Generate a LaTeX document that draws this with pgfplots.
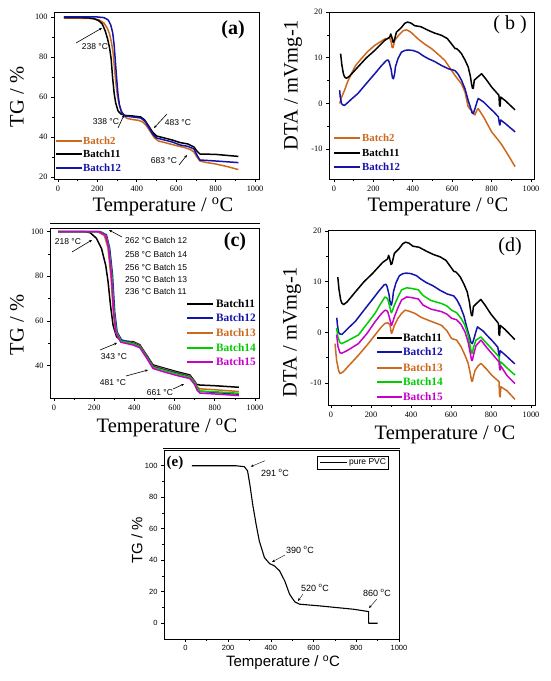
\documentclass[border=0pt]{standalone}
\usepackage{fontspec}
\setmainfont{Liberation Serif}
\setsansfont{Liberation Sans}
\usepackage{pgfplots}
\pgfplotsset{compat=1.18}
\usetikzlibrary{arrows.meta}
\definecolor{cO}{RGB}{205,105,30}
\definecolor{cB}{RGB}{20,20,170}
\definecolor{cG}{RGB}{0,205,0}
\definecolor{cM}{RGB}{200,0,200}
\pgfplotsset{panel/.style={scale only axis, anchor=south west,
  axis line style={line width=0.8pt}, tick style={line width=0.7pt, black},
  tick align=outside, tick pos=left, major tick length=3pt, minor tick length=1.6pt,
  tick label style={font=\fontsize{8.3}{9}\selectfont},
  /pgf/number format/assume math mode=true, /pgf/number format/1000 sep={},
  xtick={0,200,...,1000}, minor x tick num=1, minor y tick num=1,
  every axis plot/.append style={line width=1.5pt, line join=round}}}
\tikzset{ann/.style={font=\fontsize{8.5}{10}\selectfont\sffamily, inner sep=0pt},
  arr/.style={line width=0.6pt, -{Stealth[length=3pt,width=2.5pt]}},
  axl/.style={font=\fontsize{20.5}{24}\selectfont},
  leg/.style={font=\fontsize{10.8}{12}\selectfont\bfseries, anchor=west, inner sep=0pt},
  leg2/.style={font=\fontsize{11.3}{13}\selectfont\bfseries, anchor=west, inner sep=0pt}}
\begin{document}
\begin{tikzpicture}[x=1pt,y=1pt]
\useasboundingbox (0,0) rectangle (550,681);
\fill[white] (0,0) rectangle (550,681);

% ---------------- (a)
\begin{axis}[panel, at={(54pt,502pt)}, width=205pt, height=167pt,
  xmin=-20, xmax=1020, ymin=19, ymax=102.5, ytick={20,40,...,100}]
\addplot[cO] coordinates {(30,99.5) (100,99.4) (180,99.2) (210,98.5) (233,97) (250,94.5) (262,91.5) (272,87) (280,82) (288,73) (295,66) (302,60.5) (310,56.5) (320,53.5) (335,50.5) (350,49.3) (380,48.7) (410,48.3) (430,47.5) (450,45.5) (470,42.5) (490,39.5) (510,38) (550,37) (600,35.7) (640,34.8) (670,33.8) (690,32.5) (705,30) (720,28) (750,27.3) (800,26.5) (860,25.2) (915,23.7)};
\addplot[black] coordinates {(30,99.7) (150,99.6) (180,99.2) (205,98.3) (225,96.5) (240,93) (252,89) (262,84.5) (270,79) (277,70) (285,62) (293,57) (305,53) (320,51.5) (340,50.8) (380,50.5) (420,50) (440,48.5) (460,45.5) (480,42.5) (500,40.5) (540,39.5) (580,38.5) (620,37.2) (660,36.5) (690,35) (705,33) (720,31.5) (800,31.3) (915,30.3)};
\addplot[cB] coordinates {(30,100) (200,100) (233,99.7) (255,98.5) (268,96) (278,92) (285,86) (292,77) (298,69) (305,61) (312,56) (322,52.5) (340,50.5) (380,50) (420,49.5) (440,48) (460,45) (480,41.5) (500,39.5) (540,38.5) (580,37.5) (620,36) (660,35.3) (690,34) (705,31) (720,28.5) (800,28) (915,27.2)};
\end{axis}
\node[axl, rotate=90] at (17,584) {TG / \%};
\node[axl] at (163,474) {Temperature / \textsuperscript{o}C};
\node[font=\fontsize{20}{24}\selectfont\bfseries] at (233,651) {(a)};
\node[ann] at (95,634) {238 °C};
\draw[arr] (76,638) -- (102,653);
\node[ann] at (106,559) {338 °C};
\draw[arr] (118,553) -- (124,566);
\node[ann] at (178,558) {483 °C};
\draw[arr] (167,567) -- (154,553);
\node[ann] at (164,520) {683 °C};
\draw[arr] (179,516) -- (187,526);
\draw[cO, line width=1.6pt] (56,540) -- (82,540); \node[leg, text=cO] at (83,540) {Batch2};
\draw[black, line width=1.6pt] (56,527) -- (82,527); \node[leg, text=black] at (83,527) {Batch11};
\draw[cB, line width=1.6pt] (56,513) -- (82,513); \node[leg, text=cB] at (83,513) {Batch12};
\draw[line width=0.6pt] (50,458) -- (260,458);

% ---------------- (b)
\begin{axis}[panel, at={(329pt,502pt)}, width=205pt, height=167pt,
  xmin=-25, xmax=1015, ymin=-16.5, ymax=20, ytick={-10,0,10,20}, minor y tick num=1]
\addplot[cO] coordinates {(29,0) (40,1.5) (54,2.9) (70,4.8) (88,6.5) (110,8.3) (139,9.8) (170,11.3) (207,12.7) (258,14.1) (283,14.3) (290,13.5) (295,12.3) (300,12.2) (308,13.8) (330,15) (351,15.9) (368,16.1) (390,15.6) (427,14.1) (460,13) (495,12) (530,10.7) (563,9.4) (597,7.2) (620,5.8) (647,4.3) (665,2.5) (681,-0.7) (690,-1.2) (698,-1.4) (708,-2.2) (715,-2.5) (725,-1.5) (732,-1.1) (760,-3) (800,-6.2) (830,-7.8) (851,-9) (880,-11) (919,-13.8)};
\addplot[black] coordinates {(34,10.9) (40,8.5) (48,6.5) (54,5.8) (63,5.5) (80,6.0) (122,8) (165,10) (207,11.6) (258,13.8) (283,14.5) (288,15.2) (293,14.6) (300,13.4) (305,13.6) (317,15.6) (340,16.5) (359,17.5) (373,17.8) (390,17.6) (410,17) (440,16.8) (478,16) (510,15.4) (546,14.9) (575,14.2) (597,13) (615,12) (622,12) (635,11.5) (647,10.9) (665,9.5) (681,8) (692,6) (698,4.3) (703,3.3) (707,3.3) (712,5.1) (730,5.8) (749,6.5) (770,5.4) (800,3.6) (837,1.8) (840,-0.4) (843,-0.6) (846,1.4) (870,0.6) (919,-1.4)};
\addplot[cB] coordinates {(29,2.9) (32,1.5) (38,0) (45,-0.3) (54,-0.4) (70,0.2) (90,1.0) (122,2.2) (165,4.4) (207,6.5) (240,8.2) (266,9.4) (275,9.5) (280,9.1) (290,7.5) (297,5.6) (302,5.4) (308,6.5) (312,8) (325,9.8) (342,11.2) (360,11.6) (376,11.7) (400,11.6) (427,11.2) (450,10.5) (478,9.8) (510,9.2) (546,8.3) (580,7.6) (614,7.2) (630,6.4) (647,5.1) (665,3.2) (681,0.7) (695,-1.2) (700,-2.0) (707,-2.2) (715,-1.2) (725,0.2) (732,1.1) (760,0.3) (783,-0.7) (810,-1.8) (834,-2.9) (840,-4.5) (842,-4.7) (846,-3.6) (870,-4.4) (900,-5.5) (919,-6.2)};
\end{axis}
\node[axl, rotate=90] at (293,596) {DTA / mVmg-1};
\node[axl] at (438,474) {Temperature / \textsuperscript{o}C};
\node[font=\fontsize{20}{24}\selectfont] at (510,656) {( b )};
\draw[cO, line width=1.6pt] (334,543) -- (360,543); \node[leg, text=cO] at (362,543) {Batch2};
\draw[black, line width=1.6pt] (334,528) -- (360,528); \node[leg, text=black] at (362,528) {Batch11};
\draw[cB, line width=1.6pt] (334,514) -- (360,514); \node[leg, text=cB] at (362,514) {Batch12};

% ---------------- (c)
\begin{axis}[panel, at={(50pt,283pt)}, width=209pt, height=170pt,
  xmin=-20, xmax=1020, ymin=25.5, ymax=101.6, ytick={40,60,80,100}]
\addplot[black] coordinates {(20,100) (150,100) (180,99.5) (211,97) (236,92.5) (257,85) (269,77.6) (281,67) (294,58) (311,53) (336,51) (394,50.7) (427,49.3) (460,44.8) (493,40.3) (543,39) (610,37.3) (676,35.8) (700,33) (709,31.6) (726,31.3) (800,31) (920,30.3)};
\addplot[cO] coordinates {(20,100) (215,100) (250,98.3) (268,93) (283,80) (295,64) (307,55) (330,51.2) (394,50.3) (427,49) (460,44.5) (493,39.8) (543,38.6) (610,36.8) (676,35.3) (700,32.8) (712,30.5) (726,29.6) (800,29.2) (920,28.4)};
\addplot[cB] coordinates {(20,100) (230,100) (261,98.5) (277,92.5) (291,80.6) (302,64) (314,55) (336,51.5) (394,50) (427,48.8) (460,44.3) (493,39.5) (543,38.3) (610,36.6) (676,35) (700,32.5) (712,30) (726,28.5) (800,28) (920,27.2)};
\addplot[cG] coordinates {(20,100) (225,100) (258,98.4) (273,93) (288,80.5) (299,64) (311,55) (334,51) (394,49.8) (427,48.5) (460,44) (493,39.2) (543,38) (610,36.3) (676,34.8) (700,32.2) (712,29.8) (726,28.6) (800,28.3) (920,27.6)};
\addplot[cM] coordinates {(20,100) (222,100) (256,98.4) (271,93) (286,80) (297,63.5) (309,54.5) (332,50.5) (394,49.2) (427,48) (460,43.5) (493,38.7) (543,37.3) (610,35.6) (676,34.2) (700,31.5) (712,29) (726,27.7) (800,27.3) (920,26.6)};
\end{axis}
\node[axl, rotate=90] at (17,356) {TG / \%};
\node[axl] at (167,253) {Temperature / \textsuperscript{o}C};
\node[font=\fontsize{20}{24}\selectfont\bfseries] at (235,439) {(c)};
\node[ann] at (68,439) {218 °C};
\draw[arr] (72,429) -- (92,441);
\draw[arr] (122,444) -- (109,451);
\node[ann, anchor=west] at (125,440.3) {262 °C Batch 12};
\node[ann, anchor=west] at (125,427) {258 °C Batch 14};
\node[ann, anchor=west] at (125,413.3) {256 °C Batch 15};
\node[ann, anchor=west] at (125,401.7) {250 °C Batch 13};
\node[ann, anchor=west] at (125,389.3) {236 °C Batch 11};
\node[ann] at (114,324) {343 °C};
\draw[arr] (100,331) -- (117,338);
\node[ann] at (113,298) {481 °C};
\draw[arr] (126,305) -- (148,311);
\node[ann] at (160,288) {661 °C};
\draw[arr] (173,292) -- (184,297);
\draw[black, line width=1.6pt] (187,377) -- (213,377); \node[leg2, text=black] at (216,377) {Batch11};
\draw[cB, line width=1.6pt] (187,363) -- (213,363); \node[leg2, text=cB] at (216,363) {Batch12};
\draw[cO, line width=1.6pt] (187,348) -- (213,348); \node[leg2, text=cO] at (216,348) {Batch13};
\draw[cG, line width=1.6pt] (187,333) -- (213,333); \node[leg2, text=cG] at (216,333) {Batch14};
\draw[cM, line width=1.6pt] (187,319) -- (213,319); \node[leg2, text=cM] at (216,319) {Batch15};

% ---------------- (d)
\begin{axis}[panel, at={(328pt,276pt)}, width=207pt, height=175pt,
  xmin=-15, xmax=1020, ymin=-14.3, ymax=20.2, ytick={-10,0,10,20}]
\addplot[black] coordinates {(34,10.9) (40,8.5) (48,6.5) (54,5.8) (63,5.5) (80,6.0) (122,8) (165,10) (207,11.6) (258,13.8) (283,14.5) (288,15.2) (293,14.6) (300,13.4) (305,13.6) (317,15.6) (340,16.5) (359,17.5) (373,17.8) (390,17.6) (410,17) (440,16.8) (478,16) (510,15.4) (546,14.9) (575,14.2) (597,13) (615,12) (622,12) (635,11.5) (647,10.9) (665,9.5) (681,8) (692,6) (698,4.3) (703,3.3) (707,3.3) (712,5.1) (730,5.8) (749,6.5) (770,5.4) (800,3.6) (837,1.8) (840,-0.4) (843,-0.6) (846,1.4) (870,0.6) (919,-1.4)};
\addplot[cB] coordinates {(29,2.9) (32,1.5) (38,0) (45,-0.3) (54,-0.4) (70,0.2) (90,1.0) (122,2.2) (165,4.4) (207,6.5) (240,8.2) (266,9.4) (275,9.5) (280,9.1) (290,7.5) (297,5.6) (302,5.4) (308,6.5) (312,8) (325,9.8) (342,11.2) (360,11.6) (376,11.7) (400,11.6) (427,11.2) (450,10.5) (478,9.8) (510,9.2) (546,8.3) (580,7.6) (614,7.2) (630,6.4) (647,5.1) (665,3.2) (681,0.7) (695,-1.2) (700,-2.0) (707,-2.2) (715,-1.2) (725,0.2) (732,1.1) (760,0.3) (783,-0.7) (810,-1.8) (834,-2.9) (840,-4.5) (842,-4.7) (846,-3.6) (870,-4.4) (900,-5.5) (919,-6.2)};
\addplot[cO] coordinates {(20,-2.2) (28,-5.5) (38,-7.5) (45,-8.1) (60,-7.8) (90,-6.5) (137,-4.5) (180,-2.5) (220,-0.5) (250,1) (270,1.8) (285,1.9) (295,1.5) (300,0.2) (303,-0.2) (308,0.3) (317,1.4) (335,2.8) (353,3.75) (370,4.4) (390,4.2) (420,3.75) (450,3) (487,2.4) (520,1.9) (553,1.4) (580,0.3) (603,-1.2) (628,-1.5) (650,-2.8) (670,-4.5) (685,-6) (695,-7.8) (703,-9.6) (707,-9.6) (712,-8.7) (720,-7.5) (735,-6.6) (750,-6.1) (775,-7.1) (803,-8.4) (840,-9.7) (843,-12.5) (846,-12.7) (849,-10.7) (880,-11.5) (920,-13.2)};
\addplot[cG] coordinates {(28,0.9) (35,-1) (45,-2) (53,-2.2) (80,-1.7) (137,-0.5) (180,1.7) (220,3.75) (250,5.8) (270,7) (283,6.7) (293,5.2) (300,4) (303,3.9) (310,4.6) (317,5.4) (335,7) (353,8.4) (378,8.8) (400,8.7) (437,8.4) (460,7.3) (500,6.3) (553,5.7) (580,5.2) (603,4.4) (628,3.9) (650,2.8) (670,1.4) (685,-0.5) (695,-2.5) (703,-4.1) (707,-4.1) (712,-3) (725,-1.5) (750,-0.9) (775,-2) (803,-3.2) (840,-4.8) (843,-6.2) (846,-6.4) (849,-5.8) (880,-7) (920,-8.4)};
\addplot[cM] coordinates {(28,-0.4) (35,-2.8) (45,-4) (53,-4.1) (80,-3.6) (137,-2.2) (180,-0.2) (220,2.1) (250,3.6) (270,4.4) (283,4.2) (293,2.8) (300,1.6) (303,1.4) (310,2.2) (317,3.1) (335,4.9) (353,6.4) (378,7) (400,6.9) (437,6.6) (460,5.4) (500,4.6) (553,4.1) (580,3.6) (603,2.8) (628,2.5) (650,1.6) (670,0.1) (685,-1.8) (695,-3.8) (703,-5.5) (707,-5.5) (712,-4.5) (725,-2.6) (750,-1.5) (775,-2.8) (803,-4.1) (840,-5.8) (843,-7.2) (846,-7.4) (849,-6.6) (880,-8.5) (920,-10.1)};
\end{axis}
\node[axl, rotate=90] at (292,349) {DTA / mVmg-1};
\node[axl] at (445,246) {Temperature / \textsuperscript{o}C};
\node[font=\fontsize{20}{24}\selectfont] at (510,434) {(d)};
\draw[black, line width=1.6pt] (377,343) -- (402,343); \node[leg2, text=black] at (403,343) {Batch11};
\draw[cB, line width=1.6pt] (377,329) -- (402,329); \node[leg2, text=cB] at (403,329) {Batch12};
\draw[cO, line width=1.6pt] (377,313) -- (402,313); \node[leg2, text=cO] at (403,313) {Batch13};
\draw[cG, line width=1.6pt] (377,299) -- (402,299); \node[leg2, text=cG] at (403,299) {Batch14};
\draw[cM, line width=1.6pt] (377,284) -- (402,284); \node[leg2, text=cM] at (403,284) {Batch15};
\draw[line width=0.6pt] (163,233) -- (400,233);

% ---------------- (e)
\begin{axis}[panel, at={(164pt,42pt)}, width=235pt, height=189pt,
  xmin=-100, xmax=1000, ymin=-10, ymax=110, ytick={0,20,...,100},
  axis line style={line width=0.5pt}, tick style={line width=0.5pt},
  tick label style={font=\fontsize{7.5}{8}\selectfont\sffamily}]
\addplot[black, line width=1.1pt] coordinates {(30,100) (236,100) (276,99.4) (291,96.8) (302,88) (315,75.6) (331,62.9) (346,52.3) (370,41.7) (394,37.9) (417,36.4) (441,33.3) (465,26.9) (488,18.4) (512,13.6) (535,12.1) (630,11) (787,8.9) (858,7.4) (858,0) (900,0)};
\end{axis}
\node[axl, font=\fontsize{15}{18}\selectfont\sffamily, rotate=90] at (137,141) {TG / \%};
\node[font=\fontsize{15}{18}\selectfont\sffamily] at (283,18) {Temperature / \textsuperscript{o}C};
\node[font=\fontsize{15}{18}\selectfont\bfseries] at (175,218) {(e)};
\draw[line width=0.4pt] (317,212) rectangle (388,225);
\draw[black, line width=1pt] (320,218.5) -- (347,218.5);
\node[font=\fontsize{8.5}{10}\selectfont\sffamily, anchor=west, inner sep=0pt] at (349,218.5) {pure PVC};
\tikzset{annE/.style={font=\fontsize{9}{10}\selectfont\sffamily, inner sep=0pt}}
\node[annE] at (275,208) {291 \textsuperscript{o}C};
\draw[line width=0.4pt, -{Stealth[length=3pt,width=2.5pt]}] (265,220.3) -- (250.7,214.3);
\node[annE] at (300,131) {390 \textsuperscript{o}C};
\draw[line width=0.4pt, -{Stealth[length=3pt,width=2.5pt]}] (285,126) -- (272,119);
\node[annE] at (315,93) {520 \textsuperscript{o}C};
\draw[line width=0.4pt, -{Stealth[length=3pt,width=2.5pt]}] (303,87) -- (298,80);
\node[annE] at (377,88) {860 \textsuperscript{o}C};
\draw[line width=0.4pt, -{Stealth[length=3pt,width=2.5pt]}] (377,82) -- (369,73);
\end{tikzpicture}
\end{document}
